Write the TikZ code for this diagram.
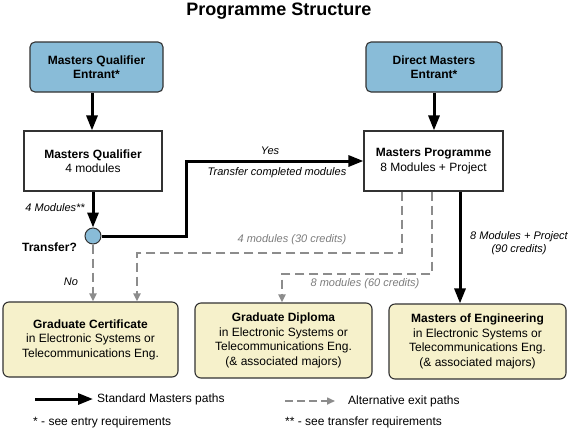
\documentclass[tikz,border=0pt]{standalone}
\usepackage{fontspec}
\setmainfont{Liberation Sans}
\usetikzlibrary{arrows.meta,calc}
\definecolor{boxblue}{RGB}{137,188,216}
\definecolor{boxyellow}{RGB}{246,241,203}
\definecolor{boxline}{RGB}{50,50,50}
\definecolor{dashgrey}{RGB}{140,140,140}
\definecolor{textgrey}{RGB}{125,125,125}
\tikzset{
  txt/.style={font=\fontsize{12}{14.5}\selectfont, align=center, inner sep=0pt},
  bluebox/.style={draw=boxline, fill=boxblue, rounded corners=5pt, line width=1.1pt,
     minimum width=133pt, minimum height=50pt, align=center,
     font=\bfseries\fontsize{12}{14.5}\selectfont, inner sep=0pt},
  whitebox/.style={draw=boxline, fill=white, line width=1.1pt,
     minimum width=138pt, minimum height=60pt, align=center,
     font=\fontsize{12}{14.5}\selectfont, inner sep=0pt},
  exitbox/.style={draw=boxline, fill=boxyellow, rounded corners=6pt, line width=1.1pt,
     minimum width=176pt, minimum height=75pt, align=center,
     font=\fontsize{12}{14.5}\selectfont, inner sep=0pt},
  mainpath/.style={line width=3pt, draw=black, -{Triangle[length=15pt,width=11pt]}},
  mainline/.style={line width=3pt, draw=black},
  altpath/.style={line width=2pt, draw=dashgrey, dash pattern=on 9pt off 5pt,
     -{Triangle[length=8pt,width=7pt]}},
  lab/.style={font=\itshape\fontsize{11}{13}\selectfont, inner sep=0pt},
  greylab/.style={lab, text=textgrey},
}
\begin{document}
\begin{tikzpicture}[x=1pt,y=-1pt]
\useasboundingbox[fill=white] (0,0) rectangle (569,429);

% title
\node[font=\bfseries\fontsize{18}{20}\selectfont, inner sep=0pt] (title) at (279,11) {Programme Structure};

% entry boxes
\node[bluebox] (mqe) at (96.5,67) {Masters Qualifier\\Entrant*};
\node[bluebox, minimum width=136pt] (dme) at (434,67) {Direct Masters\\Entrant*};

% programme boxes
\node[whitebox] (mq) at (93,161) {\textbf{Masters Qualifier}\\4 modules};
\node[whitebox, minimum width=139pt] (mp) at (433.5,161) {\textbf{Masters Programme}\\8 Modules + Project};

% transfer decision
\node[circle, draw=boxline, fill=boxblue, line width=1pt, minimum size=16pt, inner sep=0pt] (tr) at (93,236) {};

% exit boxes
\node[exitbox, minimum width=175pt] (cert) at (90.5,339.5) {\textbf{Graduate Certificate}\\in Electronic Systems or\\Telecommunications Eng.};
\node[exitbox, minimum width=177pt] (dip) at (283.5,340.5) {\textbf{Graduate Diploma}\\in Electronic Systems or\\Telecommunications Eng.\\(\& associated majors)};
\node[exitbox, minimum width=177pt] (meng) at (477.5,341.5) {\textbf{Masters of Engineering}\\in Electronic Systems or\\Telecommunications Eng.\\(\& associated majors)};

% standard paths
\draw[mainpath] (mqe.south -| 92,0) -- (mq.north -| 92,0);
\draw[mainpath] (dme.south) -- (mp.north -| dme.south);
\draw[mainpath] (mq.south -| tr.north) -- (tr.north);
\draw[mainpath] (tr.east) -- (186,236) -- (186,161) -- (mp.west);
\draw[mainpath] (mp.south -| 460,0) -- (meng.north -| 460,0);

% alternative exit paths
\draw[altpath] (tr.south) -- (cert.north -| tr.south);
\draw[altpath] (mp.south -| 402,0) -- (402,253) -- (137,253) -- (cert.north -| 137,0);
\draw[altpath] (mp.south -| 432,0) -- (432,274) -- (282,274) -- (dip.north -| 282,0);

% labels
\node[lab, anchor=east] (l4m) at (85,208) {4 Modules**};
\node[txt, font=\bfseries\fontsize{12}{14.5}\selectfont] (ltr) at (49.5,247) {Transfer?};
\node[lab] (lno) at (71,282) {No};
\node[lab] (lyes) at (270,151) {Yes};
\node[lab] (ltcm) at (277,173) {Transfer completed modules};
\node[greylab] (l30) at (292,240) {4 modules (30 credits)};
\node[greylab] (l60) at (365,284) {8 modules (60 credits)};
\node[lab, align=center, font=\itshape\fontsize{11}{13}\selectfont] (l90) at (519,243.5) {8 Modules + Project\\(90 credits)};

% legend
\coordinate (lg1a) at (35,399);
\coordinate (lg1b) at (93,399);
\draw[mainpath] (lg1a) -- (lg1b);
\node[txt, anchor=west] (lg1t) at (97,399) {Standard Masters paths};
\coordinate (lg2a) at (285,401);
\coordinate (lg2b) at (335,401);
\draw[altpath, line width=1.6pt, dash pattern=on 8pt off 4pt] (lg2a) -- (lg2b);
\node[txt, anchor=west] (lg2t) at (348,401) {Alternative exit paths};
\node[txt, anchor=west] (n1) at (33,422) {* - see entry requirements};
\node[txt, anchor=west] (n2) at (285,422) {** - see transfer requirements};
\end{tikzpicture}
\end{document}
